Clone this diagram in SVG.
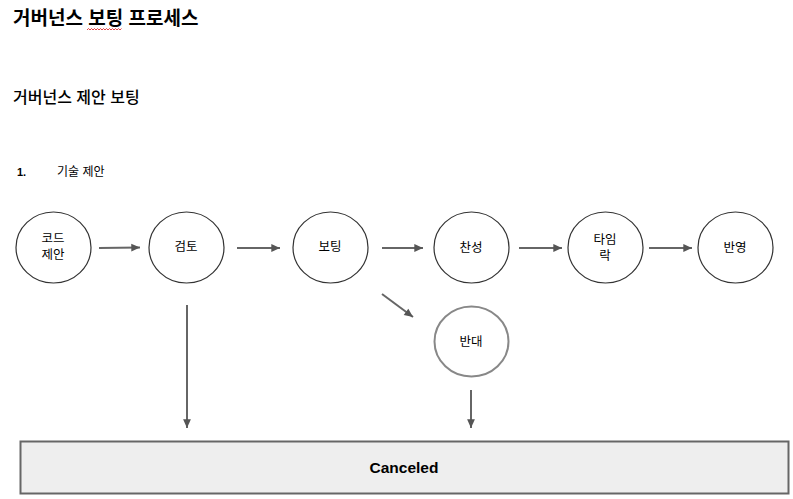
<svg xmlns="http://www.w3.org/2000/svg" width="793" height="499" viewBox="0 0 793 499">
<style>
text{font-family:"Liberation Sans","Noto Sans CJK KR",sans-serif;fill:#000}
.t{font-size:12.5px;text-anchor:middle}
.n{fill:#fff;stroke:#333;stroke-width:1.2}
.c{stroke:#666;stroke-width:2;fill:none}
</style>
<defs>
<marker id="ah" viewBox="0 0 10 10" refX="10" refY="5" markerWidth="6" markerHeight="6" markerUnits="userSpaceOnUse" orient="auto" style="overflow:visible">
<path d="M0,0 L10,5 L0,10 z" fill="#555" transform="scale(1.45,1.3)" transform-origin="10 5"/>
</marker>
</defs>
<rect width="793" height="499" fill="#fff"/>
<text x="13" y="25" style="font-size:19px;font-weight:bold">거버넌스 보팅 프로세스</text>
<path d="M87,30 l1.5,-1.5 1.5,1.5 1.5,-1.5 1.5,1.5 1.5,-1.5 1.5,1.5 1.5,-1.5 1.5,1.5 1.5,-1.5 1.5,1.5 1.5,-1.5 1.5,1.5 1.5,-1.5 1.5,1.5 1.5,-1.5 1.5,1.5 1.5,-1.5 1.5,1.5 1.5,-1.5 1.5,1.5 1.5,-1.5 1.5,1.5 1.5,-1.5" fill="none" stroke="#e03030" stroke-width="0.9"/>
<text x="13" y="103" style="font-size:16px;font-weight:500">거버넌스 제안 보팅</text>
<text x="17" y="176" style="font-size:11px;font-weight:bold">1.</text>
<text x="57" y="176" style="font-size:12px">기술 제안</text>
<g id="connectors">
<line class="c" x1="99" y1="248" x2="140" y2="247.5" marker-end="url(#ah)"/>
<line class="c" x1="237" y1="248" x2="280" y2="248" marker-end="url(#ah)"/>
<line class="c" x1="382" y1="248" x2="423" y2="248" marker-end="url(#ah)"/>
<line class="c" x1="519" y1="248" x2="562" y2="248" marker-end="url(#ah)"/>
<line class="c" x1="649" y1="248" x2="692" y2="248" marker-end="url(#ah)"/>
<line class="c" x1="382" y1="294" x2="413" y2="317" marker-end="url(#ah)"/>
<line class="c" x1="187" y1="305" x2="187" y2="428" marker-end="url(#ah)"/>
<line class="c" x1="471" y1="390" x2="471" y2="428" marker-end="url(#ah)"/>
</g>
<g id="n1"><ellipse class="n" cx="53.5" cy="247.5" rx="37.5" ry="35.5"/><text class="t" x="53" y="243">코드</text><text class="t" x="53" y="259">제안</text></g>
<g id="n2"><ellipse class="n" cx="186.5" cy="247.5" rx="37.5" ry="35.5"/><text class="t" x="186" y="251">검토</text></g>
<g id="n3"><ellipse class="n" cx="330.5" cy="247.5" rx="37.5" ry="35.5"/><text class="t" x="330" y="251">보팅</text></g>
<g id="n4"><ellipse class="n" cx="471.5" cy="247.5" rx="37.5" ry="35.5"/><text class="t" x="471" y="252">찬성</text></g>
<g id="n5"><ellipse class="n" cx="605.5" cy="247.5" rx="37.5" ry="35.5"/><text class="t" x="605" y="244">타임</text><text class="t" x="605" y="260">락</text></g>
<g id="n6"><ellipse class="n" cx="735.5" cy="247.5" rx="37.5" ry="35.5"/><text class="t" x="735" y="252">반영</text></g>
<g id="n7"><ellipse class="n" cx="471.5" cy="341.5" rx="37" ry="35" style="stroke:#888;stroke-width:2"/><text class="t" x="471" y="346">반대</text></g>
<g id="n8"><rect x="20.5" y="441.5" width="768" height="52" fill="#eeeeee" stroke="#666" stroke-width="2"/><text x="404" y="473" style="font-size:15.5px;font-weight:bold;text-anchor:middle">Canceled</text></g>
</svg>
